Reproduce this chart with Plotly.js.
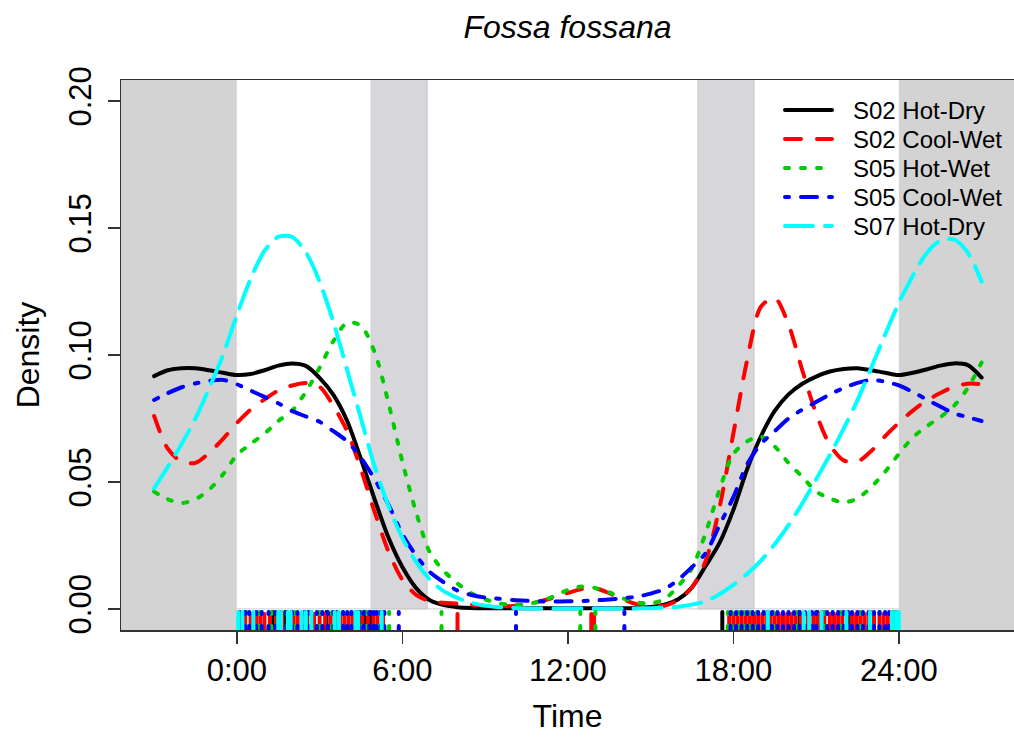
<!DOCTYPE html>
<html>
<head>
<meta charset="utf-8">
<script src="https://cdn.plot.ly/plotly-3.0.1.min.js"></script>
<style>
html,body{margin:0;padding:0;background:#ffffff;}
#chart{width:1014px;height:738px;}
path.js-line{stroke-linecap:round !important;}
.shapelayer path{stroke-linecap:round;}
</style>
</head>
<body>
<div id="chart"></div>
<script>
// ---------------- DATA ----------------
const hours = [-3,-2.5,-2,-1.5,-1,-0.5,0,0.5,1,1.5,2,2.5,3,3.5,4,4.5,5,5.5,6,6.5,7,7.5,8,8.5,9,9.5,10,10.5,11,11.5,
  12,12.5,13,13.5,14,14.5,15,15.5,16,16.5,17,17.5,18,18.5,19,19.5,20,20.5,21,21.5,22,22.5,23,23.5,24,24.5,25,25.5,26,26.5,27];

const s02HotDry = [0.0917,0.094,0.0948,0.0948,0.094,0.093,
  0.0921,0.0925,0.094,0.0958,0.0967,0.0957,
  0.091,0.0843,0.074,0.059,0.043,0.028,
  0.0165,0.0082,0.0034,0.0015,0.0007,0.0004,
  0.0003,0.0003,0.0003,0.0003,0.0003,0.0003,
  0.0003,0.0003,0.0003,0.0003,0.0003,0.0004,
  0.0008,0.0017,0.0038,0.0085,0.017,0.026,
  0.039,0.055,0.068,0.078,0.0845,0.0887,
  0.0915,0.0935,0.0945,0.0948,0.094,0.093,
  0.0921,0.093,0.0943,0.0958,0.0967,0.096,0.0911];

const s02CoolWet = [0.076,0.063,0.058,0.0575,0.0615,0.067,
  0.0732,0.0785,0.0825,0.086,0.088,0.089,
  0.0875,0.080,0.070,0.055,0.038,0.0225,
  0.0115,0.0055,0.003,0.0024,0.0021,0.0017,
  0.0012,0.001,0.0012,0.0018,0.003,0.0045,
  0.0063,0.0078,0.0081,0.0062,0.0038,0.0018,
  0.0011,0.0012,0.0035,0.0085,0.019,0.040,
  0.069,0.098,0.119,0.1225,0.112,0.094,
  0.077,0.0646,0.0585,0.058,0.0622,0.068,
  0.0733,0.078,0.082,0.085,0.0875,0.0887,0.0885];

const s05HotWet = [0.0462,0.0432,0.0417,0.0432,0.047,0.053,
  0.0606,0.065,0.069,0.074,0.078,0.0855,
  0.095,0.1055,0.1128,0.1115,0.101,0.081,
  0.058,0.038,0.0222,0.015,0.0100,0.0062,
  0.0038,0.0022,0.0016,0.002,0.0029,0.005,
  0.0075,0.0088,0.0082,0.0065,0.0042,0.0026,
  0.0022,0.0038,0.009,0.016,0.030,0.047,
  0.061,0.066,0.0678,0.064,0.0575,0.052,
  0.0463,0.0435,0.042,0.0435,0.048,0.054,
  0.061,0.0675,0.0718,0.0755,0.080,0.087,0.097];

const s05CoolWet = [0.0823,0.085,0.0873,0.0888,0.0898,0.0902,
  0.0885,0.086,0.0835,0.081,0.078,0.0758,
  0.0737,0.070,0.066,0.0595,0.051,0.041,
  0.0295,0.021,0.0145,0.0105,0.0072,0.0055,
  0.0045,0.004,0.0035,0.0032,0.003,0.0029,
  0.003,0.0031,0.0034,0.0037,0.0042,0.0048,
  0.006,0.0078,0.0115,0.0165,0.022,0.033,
  0.044,0.057,0.065,0.070,0.075,0.0785,
  0.0815,0.0845,0.087,0.089,0.0902,0.0895,
  0.088,0.0855,0.0825,0.0797,0.077,0.0755,0.074];

const s07HotDry = [0.0475,0.056,0.065,0.075,0.087,0.100,
  0.1157,0.130,0.141,0.1465,0.1465,0.1405,
  0.1289,0.113,0.094,0.075,0.056,0.0405,
  0.028,0.0185,0.0115,0.007,0.0043,0.0024,
  0.0013,0.0007,0.0004,0.0002,0.0002,0.0002,
  0.0002,0.0002,0.0002,0.0002,0.0002,0.0002,
  0.0003,0.0005,0.0009,0.0017,0.003,0.0058,
  0.0095,0.0138,0.019,0.0255,0.033,0.0415,
  0.051,0.0606,0.071,0.0822,0.095,0.108,
  0.1205,0.131,0.140,0.145,0.1455,0.1403,0.1289];

// observed detection times (rug), hours
const rugS02HotDry = [1.3,1.75,3.25,4.45,4.65,4.85,17.6,20.4,21.05,22.15,23.9];
const rugS02CoolWet = [0.15,0.3,0.5,0.7,0.85,1.0,1.2,1.45,1.65,2.05,2.2,2.35,2.55,2.8,3.0,3.2,3.4,3.6,3.75,3.9,
  4.05,4.2,4.35,4.55,4.75,4.95,5.1,5.3,8.0,12.85,12.95,
  17.85,18.0,18.15,18.3,18.45,18.6,18.75,18.9,19.05,19.2,19.35,19.5,19.65,19.8,19.95,20.1,20.25,
  20.45,20.7,20.9,21.05,21.3,21.5,21.65,21.8,21.95,22.3,22.45,22.6,22.75,22.9,23.1,23.3,23.45,23.6,23.8];
const rugS05HotWet = [0.35,0.8,0.9,1.25,1.8,2.1,2.55,2.7,3.0,3.45,3.65,3.85,4.15,4.35,4.5,4.7,5.1,5.3,5.52,
  7.42,12.45,13.0,
  17.8,17.95,18.2,18.4,18.6,18.85,19.1,19.45,20.3,21.3,21.9,22.6,23.0,23.3,23.8];
const rugS05CoolWet = [0.1,0.3,0.45,0.7,0.9,1.15,1.4,1.6,1.8,2.0,2.2,2.45,2.6,2.9,3.1,3.3,3.5,3.6,3.85,4.0,
  4.15,4.3,4.45,4.6,4.8,4.95,5.05,5.2,5.35,5.87,10.12,14.05,
  17.9,18.1,18.3,18.5,18.7,18.9,19.1,19.25,19.4,19.6,19.8,20.0,20.2,20.4,20.6,20.85,21.0,21.2,21.4,21.6,
  21.8,22.0,22.15,22.3,22.5,22.7,22.9,23.1,23.3,23.5,23.65];
const rugS07HotDry = [0.05,0.2,0.6,1.5,1.6,1.85,1.95,2.35,2.5,2.7,3.55,3.7,4.3,4.4,5.25,
  19.25,20.55,20.75,21.2,22.1,22.95,23.75,23.9,24.0];

const seriesNames = ['S02 Hot-Dry','S02 Cool-Wet','S05 Hot-Wet','S05 Cool-Wet','S07 Hot-Dry'];
const seriesValues = [s02HotDry, s02CoolWet, s05HotWet, s05CoolWet, s07HotDry];
const seriesRugs = [rugS02HotDry, rugS02CoolWet, rugS05HotWet, rugS05CoolWet, rugS07HotDry];

const tickHours = [0,6,12,18,24];
const tickHourLabels = ['0:00','6:00','12:00','18:00','24:00'];
const densityTicks = [0,0.05,0.10,0.15,0.20];
const densityTickLabels = ['0.00','0.05','0.10','0.15','0.20'];

const twilightPeriods = [[4.88,6.9],[16.73,18.75]];

// ---------------- STYLE ----------------
const colors = ['#000000','#ff0000','#00cd00','#0000ff','#00ffff'];
const dashes = ['solid','16px,16px','4px,12px','4px,12px,16px,12px','28px,12px'];
const LW = 4;
const FONT = 'Liberation Sans, Arial, Helvetica, sans-serif';

const XR = [-4.2, 28.175];
const YR = [-0.0083, 0.2083];
const rugBottom = -0.0083, rugTop = -0.0012;

const traces = [];
seriesValues.forEach((vals, i) => {
  traces.push({
    x: hours, y: vals, type: 'scatter', mode: 'lines',
    line: {color: colors[i], width: LW, dash: dashes[i], shape: 'spline', smoothing: 0.8},
    name: seriesNames[i], hoverinfo: 'skip', showlegend: false
  });
});
seriesRugs.forEach((times, i) => {
  const rx = [], ry = [];
  times.forEach(t => { rx.push(t, t, null); ry.push(rugBottom, rugTop, null); });
  traces.push({
    x: rx, y: ry, type: 'scatter', mode: 'lines',
    line: {color: colors[i], width: LW, dash: dashes[i]},
    hoverinfo: 'skip', showlegend: false, connectgaps: false
  });
});

// plot area in pixels
const PL = 121, PT = 80, PW = 893, PH = 550;
const pxX = p => (p - PL) / PW;
const pxY = p => (PT + PH - p) / PH;

const shapes = [
  {type:'rect', xref:'x', yref:'paper', x0:-10, x1:0, y0:0, y1:1, fillcolor:'#d3d3d3', line:{width:0}, layer:'below'},
  {type:'rect', xref:'x', yref:'paper', x0:24, x1:40, y0:0, y1:1, fillcolor:'#d3d3d3', line:{width:0}, layer:'below'}
];
twilightPeriods.forEach(p => {
  shapes.push({type:'rect', xref:'x', yref:'y', x0:p[0], x1:p[1], y0:0, y1:0.3,
    fillcolor:'#d6d6db', line:{color:'#c6c6cb', width:1}, layer:'below'});
});
shapes.push({type:'line', xref:'x', yref:'y', x0:0, x1:24, y0:0, y1:0, line:{color:'#cdcdcd', width:1}, layer:'below'});

// legend (no box), drawn at fixed pixel positions
const legRows = [110,139,168,197,226];
const annotations = [];
seriesNames.forEach((nm, i) => {
  shapes.push({type:'line', xref:'paper', yref:'paper', x0:pxX(785), x1:pxX(832), y0:pxY(legRows[i]), y1:pxY(legRows[i]),
    line:{color:colors[i], width:LW, dash:dashes[i]}, layer:'above'});
  annotations.push({xref:'paper', yref:'paper', x:pxX(851), y:pxY(legRows[i]), xanchor:'left', yanchor:'middle',
    text: nm, showarrow:false, font:{family:FONT, size:24, color:'#000'}});
});

const layout = {
  width: 1014, height: 738,
  margin: {l: PL, r: 0, t: PT, b: 738 - PT - PH, pad: 0},
  paper_bgcolor: '#ffffff', plot_bgcolor: '#ffffff',
  showlegend: false,
  title: {text: '<i>Fossa fossana</i>', font: {family: FONT, size: 32, color: '#000'},
    x: 0.5, xref: 'paper', xanchor: 'center', y: 1 - 27/738, yref: 'container', yanchor: 'middle'},
  xaxis: {
    range: XR, tickvals: tickHours, ticktext: tickHourLabels,
    ticks: 'outside', ticklen: 12, tickwidth: 1.5, tickcolor: '#333',
    showline: true, mirror: true, linecolor: '#333', linewidth: 1.5,
    showgrid: false, zeroline: false,
    tickfont: {family: FONT, size: 31, color: '#000'},
    title: {text: 'Time', font: {family: FONT, size: 32, color: '#000'}, standoff: 18}
  },
  yaxis: {
    range: YR, tickvals: densityTicks, ticktext: densityTickLabels, tickangle: -90,
    ticks: 'outside', ticklen: 12, tickwidth: 1.5, tickcolor: '#333',
    showline: true, mirror: false, linecolor: '#333', linewidth: 1.5,
    showgrid: false, zeroline: false, ticklabelstandoff: 4,
    tickfont: {family: FONT, size: 31, color: '#000'},
    title: {text: 'Density', font: {family: FONT, size: 32, color: '#000'}, standoff: 14}
  },
  shapes: shapes,
  annotations: annotations
};

Plotly.newPlot('chart', traces, layout, {staticPlot: true, displayModeBar: false});
</script>
</body>
</html>
